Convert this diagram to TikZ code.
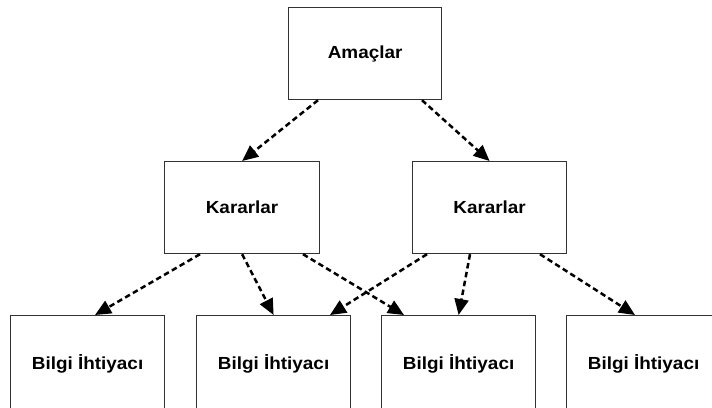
\documentclass[tikz,border=0pt]{standalone}
\usepackage{fontspec}
\setmainfont{Liberation Sans}
\usetikzlibrary{arrows.meta,calc}
\tikzset{
  box/.style={draw=black!80, line width=1.2pt, fill=white, rectangle,
    minimum height=92pt, inner sep=0pt, anchor=north west,
    font=\fontsize{17.5}{20}\selectfont\bfseries},
  link/.style={draw=black, line width=2.5pt, dash pattern=on 5.5pt off 3.5pt,
    -{Triangle[length=16pt,width=14pt]}}
}
\newcommand{\wide}[1]{\scalebox{1.08}[1]{#1}}
\begin{document}
\begin{tikzpicture}[x=1pt,y=-1pt]
  \useasboundingbox (0,0) rectangle (712,407);
  \clip (0,0) rectangle (712,407);
  \fill[white] (0,0) rectangle (712,407);
  % goal
  \node[box, minimum width=153pt] (a) at (288,7) {\wide{Amaçlar}};
  % decisions
  \node[box, minimum width=155pt] (k1) at (164,161) {\wide{Kararlar}};
  \node[box, minimum width=154pt] (k2) at (412,161) {\wide{Kararlar}};
  % information needs (cut off at the lower edge)
  \node[box, minimum width=154pt, minimum height=100pt] (b1) at (10,315) {\raisebox{8pt}{\wide{Bilgi İhtiyacı}}};
  \node[box, minimum width=154pt, minimum height=100pt] (b2) at (196,315) {\raisebox{8pt}{\wide{Bilgi İhtiyacı}}};
  \node[box, minimum width=154pt, minimum height=100pt] (b3) at (381,315) {\raisebox{8pt}{\wide{Bilgi İhtiyacı}}};
  \node[box, minimum width=154pt, minimum height=100pt] (b4) at (566,315) {\raisebox{8pt}{\wide{Bilgi İhtiyacı}}};
  % goal to decisions
  \draw[link] ($(a.south west)+(30,0)$) -- (k1.north);
  \draw[link] ($(a.south west)+(134,0)$) -- (k2.north);
  % decisions to information needs
  \draw[link] ($(k1.south west)+(36,0)$) -- ($(b1.north west)+(85,0)$);
  \draw[link] (k1.south) -- (b2.north);
  \draw[link] ($(k1.south west)+(139,0)$) -- ($(b3.north west)+(23,0)$);
  \draw[link] ($(k2.south west)+(15,0)$) -- ($(b2.north west)+(134,0)$);
  \draw[link] ($(k2.south west)+(58,0)$) -- (b3.north);
  \draw[link] ($(k2.south west)+(128,0)$) -- ($(b4.north west)+(69,0)$);
\end{tikzpicture}
\end{document}
